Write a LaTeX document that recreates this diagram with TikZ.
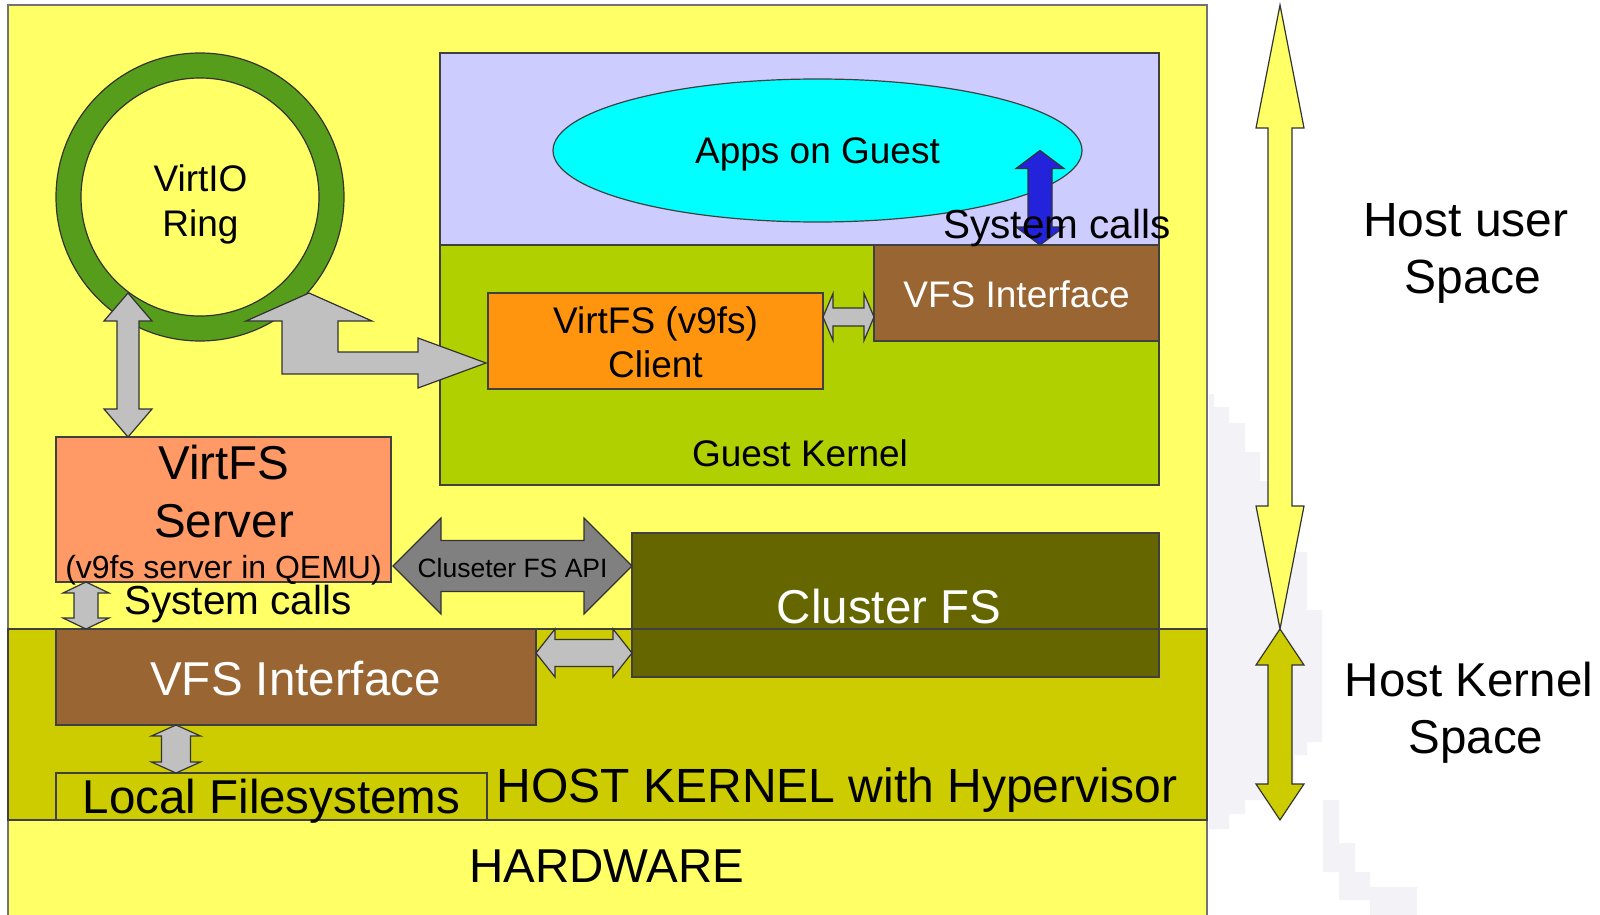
\documentclass[tikz,border=0pt]{standalone}
\usepackage{fontspec}
\setmainfont{Liberation Sans}
\usetikzlibrary{calc,shapes.geometric}

\definecolor{hostc}{HTML}{FFFF66}
\definecolor{kernc}{HTML}{CCCC00}
\definecolor{guestc}{HTML}{CCCCFF}
\definecolor{gkernc}{HTML}{B0D000}
\definecolor{appsc}{HTML}{00FFFF}
\definecolor{ringc}{HTML}{579D1C}
\definecolor{vfsc}{HTML}{996633}
\definecolor{clientc}{HTML}{FF950E}
\definecolor{serverc}{HTML}{FF9966}
\definecolor{clusterc}{HTML}{666600}
\definecolor{apic}{HTML}{808080}
\definecolor{lgray}{HTML}{C0C0C0}
\definecolor{sysc}{HTML}{2323DC}
\definecolor{shadec}{HTML}{F3F3F7}

\tikzstyle{every path}=[line width=1.2pt,line join=miter]
\tikzstyle{box}=[draw=black!75,inner sep=0pt,outer sep=0pt,anchor=north west]
\tikzstyle{lbl}=[inner sep=0pt,anchor=base]
\tikzstyle{txt}=[lbl,font=\fontsize{37}{44}\selectfont]
\tikzstyle{mid}=[lbl,font=\fontsize{40.5}{48}\selectfont]
\tikzstyle{big}=[lbl,font=\fontsize{47.5}{56}\selectfont]
\tikzstyle{garrow}=[draw=black!80,fill=lgray]
\tikzstyle{darrow}=[draw=black!80,fill=apic]
\tikzstyle{barrow}=[draw=black!80,fill=sysc]
\tikzstyle{yarrow}=[draw=black!80,fill=hostc]
\tikzstyle{karrow}=[draw=black!80,fill=kernc]

% vertical block arrow: style, top tip, bottom tip, shaft half, head half, head length
\newcommand{\vblock}[6]{\draw[#1] (#2) -- ($(#2)+(#5,#6)$) -- ($(#2)+(#4,#6)$)
  -- ($(#3)+(#4,-#6)$) -- ($(#3)+(#5,-#6)$) -- (#3) -- ($(#3)+(-#5,-#6)$)
  -- ($(#3)+(-#4,-#6)$) -- ($(#2)+(-#4,#6)$) -- ($(#2)+(-#5,#6)$) -- cycle;}
% horizontal block arrow: style, left tip, right tip, shaft half, head half, head length
\newcommand{\hblock}[6]{\draw[#1] (#2) -- ($(#2)+(#6,-#5)$) -- ($(#2)+(#6,-#4)$)
  -- ($(#3)+(-#6,-#4)$) -- ($(#3)+(-#6,-#5)$) -- (#3) -- ($(#3)+(-#6,#5)$)
  -- ($(#3)+(-#6,#4)$) -- ($(#2)+(#6,#4)$) -- ($(#2)+(#6,#5)$) -- cycle;}

\begin{document}
\begin{tikzpicture}[x=1pt,y=-1pt]
    \useasboundingbox (0,0) rectangle (1600,915);

    % faint shading right of the host
    \fill[shadec] (1209,394) -- (1214,394) -- (1214,407) -- (1229,407) -- (1229,423)
        -- (1245,423) -- (1245,452) -- (1260,452) -- (1260,481) -- (1270,481)
        -- (1270,552) -- (1307,552) -- (1307,610) -- (1322,610) -- (1322,742)
        -- (1307,742) -- (1307,755) -- (1294,755) -- (1294,800) -- (1245,800)
        -- (1245,814) -- (1229,814) -- (1229,829) -- (1209,829) -- cycle;
    \fill[shadec] (1323,800) -- (1339,800) -- (1339,843) -- (1355,843) -- (1355,872)
        -- (1370,872) -- (1370,887) -- (1417,887) -- (1417,915) -- (1370,915)
        -- (1370,900) -- (1339,900) -- (1339,872) -- (1323,872) -- cycle;

    % host and kernel layers
    \fill[hostc] (8,5) rectangle (1207,915);
    \draw[draw=black!55] (8,915) -- (8,5) -- (1207,5) -- (1207,915);
    \node[box,fill=kernc,minimum width=1199pt,minimum height=191pt] (hk) at (8,629) {};

    % guest
    \node[box,fill=guestc,minimum width=719pt,minimum height=192pt] (guest) at (440,53) {};
    \node[box,fill=gkernc,minimum width=719pt,minimum height=240pt] (gkern) at (440,245) {};
    \node[box,ellipse,anchor=center,fill=appsc,minimum width=529pt,minimum height=143pt] (apps) at (817.5,150.5) {};
    \node[txt] (appsT) at (817.5,164) {Apps on Guest};
    \node[box,fill=vfsc,minimum width=285pt,minimum height=96pt] (gvfs) at (874,245) {};
    \node[txt,text=white] (gvfsT) at (1016.5,307) {VFS Interface};
    \node[box,fill=clientc,minimum width=335pt,minimum height=96pt] (client) at (488,293) {};
    \node[txt] (clientA) at (655.5,333) {VirtFS (v9fs)};
    \node[txt] (clientB) at (655.5,377) {Client};
    \node[txt] (gkernT) at (800,466) {Guest Kernel};

    % virtio ring
    \coordinate (ring) at (200,197);
    \fill[ringc,even odd rule] (ring) circle[radius=144pt] (ring) circle[radius=119pt];
    \draw[draw=black!80] (ring) circle[radius=144pt] (ring) circle[radius=119pt];
    \node[txt] (ringA) at (200.5,191) {VirtIO};
    \node[txt] (ringB) at (200.5,236) {Ring};

    % host side boxes
    \node[box,fill=serverc,minimum width=335pt,minimum height=145pt] (server) at (56,437) {};
    \node[big] (serverA) at (224,479) {VirtFS};
    \node[big] (serverB) at (224,537) {Server};
    \node[lbl,font=\fontsize{32}{38}\selectfont] (serverC) at (223.5,578) {(v9fs server in QEMU)};
    \node[box,fill=clusterc,minimum width=527pt,minimum height=144pt] (cluster) at (632,533) {};
    \node[big,text=white] (clusterT) at (889,623) {Cluster FS};
    \draw[draw=black!75] (hk.north west) -- (hk.north east);
    \node[box,fill=vfsc,minimum width=480pt,minimum height=96pt] (hvfs) at (56,629) {};
    \node[big,text=white] (hvfsT) at (295.5,695) {VFS Interface};
    \node[box,fill=kernc,minimum width=431pt,minimum height=47pt] (local) at (56,773) {};
    \node[lbl,font=\fontsize{47.5}{56}\selectfont] (localT) at (271.5,813) {Local Filesystems};
    \node[lbl,font=\fontsize{48}{56}\selectfont] (hkT) at (837,802) {HOST KERNEL with Hypervisor};
    \node[big] (hwT) at (607,882) {HARDWARE};

    % ring connections
    \coordinate (ringS) at ($(ring)+(-72,96)$);
    \vblock{garrow}{ringS}{server.north -| ringS}{11}{24}{28}
    \draw[garrow] ($(ring)+(109,96)$) -- ++(63,28) -- ++(-34,0) -- ++(0,31) -- ++(80,0)
        -- ++(0,-14) -- ++(68,25) -- ++(-68,25) -- ++(0,-14) -- ++(-136,0)
        -- ++(0,-53) -- ++(-36,0) -- cycle;

    % guest side arrows
    \coordinate (m1) at ($(client.north east)!0.5!(gvfs.south west)$);
    \hblock{garrow}{client.east |- m1}{gvfs.west |- m1}{9}{23.5}{10}
    \coordinate (sysG) at ($(gvfs.north west)+(166,0)$);
    \vblock{barrow}{apps.center -| sysG}{sysG}{12}{24}{18}
    \node[mid] (sysGT) at (1057,238) {System calls};

    % host side arrows
    \coordinate (apiL) at ($(server.south east)+(2,-16)$);
    \coordinate (apiR) at (cluster.west |- apiL);
    \hblock{darrow}{apiL}{apiR}{25.5}{48}{48}
    \node[lbl,font=\fontsize{26.5}{32}\selectfont] (apiT) at (512.5,577) {Cluseter FS API};
    \coordinate (sysH) at ($(server.south west)+(30,0)$);
    \vblock{garrow}{sysH}{hvfs.north -| sysH}{12}{23}{11}
    \node[mid] (sysHT) at (238,614) {System calls};
    \coordinate (vc) at ($(hvfs.north east)+(0,24)$);
    \hblock{garrow}{vc}{cluster.west |- vc}{13.5}{24}{19}
    \coordinate (vl) at ($(hvfs.south west)+(120,0)$);
    \vblock{garrow}{vl}{local.north -| vl}{14.5}{24.5}{11}

    % user / kernel space
    \coordinate (usrT) at (1280,5);
    \coordinate (kTop) at ($(hk.north east)+(73,0)$);
    \coordinate (kBot) at ($(hk.south east)+(73,0)$);
    \vblock{yarrow}{usrT}{kTop}{12}{24}{123}
    \vblock{karrow}{kTop}{kBot}{12}{24}{36}
    \node[lbl,font=\fontsize{48}{56}\selectfont] (usrA) at (1466,236) {Host user};
    \node[lbl,font=\fontsize{48}{56}\selectfont] (usrB) at (1473,293) {Space};
    \node[lbl,font=\fontsize{47.5}{56}\selectfont] (kerA) at (1469,696) {Host Kernel};
    \node[lbl,font=\fontsize{47.5}{56}\selectfont] (kerB) at (1476,753) {Space};
\end{tikzpicture}
\end{document}
